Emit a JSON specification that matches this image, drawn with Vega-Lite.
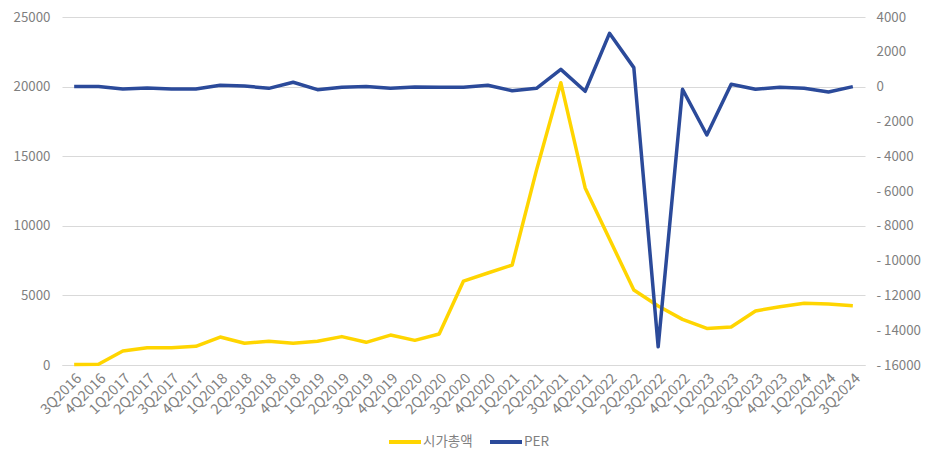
{
  "$schema": "https://vega.github.io/schema/vega-lite/v6.json",
  "autosize": {"type": "none"},
  "width": 803,
  "height": 348,
  "padding": {"left": 62, "top": 17, "right": 71, "bottom": 97},
  "background": "white",
  "config": {
    "view": {"stroke": null},
    "font": "Noto Sans CJK KR",
    "axis": {"labelColor": "#7f7f7f", "labelFontSize": 13.3, "ticks": false, "labelFont": "Noto Sans CJK KR"},
    "legend": {"labelColor": "#7f7f7f", "labelFontSize": 13.5, "labelFont": "Noto Sans CJK KR"}
  },
  "datasets": {
    "d": [
      {"q": "3Q2016", "cap": 30, "per": 0},
      {"q": "4Q2016", "cap": 50, "per": 0},
      {"q": "1Q2017", "cap": 1000, "per": -140},
      {"q": "2Q2017", "cap": 1240, "per": -80},
      {"q": "3Q2017", "cap": 1240, "per": -140},
      {"q": "4Q2017", "cap": 1340, "per": -140},
      {"q": "1Q2018", "cap": 2010, "per": 75},
      {"q": "2Q2018", "cap": 1560, "per": 35},
      {"q": "3Q2018", "cap": 1700, "per": -100},
      {"q": "4Q2018", "cap": 1560, "per": 250},
      {"q": "1Q2019", "cap": 1710, "per": -175},
      {"q": "2Q2019", "cap": 2040, "per": -40},
      {"q": "3Q2019", "cap": 1630, "per": 0},
      {"q": "4Q2019", "cap": 2150, "per": -100},
      {"q": "1Q2020", "cap": 1770, "per": -20},
      {"q": "2Q2020", "cap": 2230, "per": -40},
      {"q": "3Q2020", "cap": 6030, "per": -40},
      {"q": "4Q2020", "cap": 6610, "per": 75},
      {"q": "1Q2021", "cap": 7180, "per": -235},
      {"q": "2Q2021", "cap": 14000, "per": -100},
      {"q": "3Q2021", "cap": 20280, "per": 990},
      {"q": "4Q2021", "cap": 12720, "per": -270},
      {"q": "1Q2022", "cap": 9050, "per": 3060},
      {"q": "2Q2022", "cap": 5390, "per": 1090},
      {"q": "3Q2022", "cap": 4240, "per": -14950},
      {"q": "4Q2022", "cap": 3280, "per": -155},
      {"q": "1Q2023", "cap": 2630, "per": -2780},
      {"q": "2Q2023", "cap": 2730, "per": 130},
      {"q": "3Q2023", "cap": 3880, "per": -155},
      {"q": "4Q2023", "cap": 4190, "per": -40},
      {"q": "1Q2024", "cap": 4430, "per": -100},
      {"q": "2Q2024", "cap": 4380, "per": -310},
      {"q": "3Q2024", "cap": 4260, "per": 0}
    ]
  },
  "data": {"name": "d"},
  "encoding": {
    "x": {
      "field": "q", "type": "ordinal", "sort": null,
      "scale": {"type": "point", "padding": 0.5},
      "axis": {"title": null, "labelAngle": -45, "labelFontSize": 14.5, "labelPadding": 6, "domain": true, "domainColor": "#d9d9d9", "grid": false}
    }
  },
  "layer": [
    {
      "mark": {"type": "line", "strokeWidth": 3.5, "strokeJoin": "round"},
      "encoding": {
        "y": {
          "field": "cap", "type": "quantitative",
          "scale": {"domain": [0, 25000], "nice": false},
          "axis": {"title": null, "values": [0, 5000, 10000, 15000, 20000, 25000], "format": "d", "grid": true, "gridColor": "#d9d9d9", "domain": false, "labelPadding": 12}
        },
        "color": {
          "datum": "시가총액", "type": "nominal",
          "scale": {"domain": ["시가총액", "PER"], "range": ["#FFD500", "#2B4A9A"]},
          "legend": {
            "title": null, "orient": "none", "direction": "horizontal",
            "legendX": 325, "legendY": 407, "padding": 0,
            "symbolType": "stroke", "symbolSize": 1024, "symbolStrokeWidth": 4,
            "labelOffset": 0, "columnPadding": 9
          }
        }
      }
    },
    {
      "mark": {"type": "line", "strokeWidth": 3.5, "strokeJoin": "round"},
      "encoding": {
        "y": {
          "field": "per", "type": "quantitative",
          "scale": {"domain": [-16000, 4000], "nice": false},
          "axis": {"title": null, "orient": "right", "values": [-16000, -14000, -12000, -10000, -8000, -6000, -4000, -2000, 0, 2000, 4000], "labelExpr": "datum.value < 0 ? '- ' + format(-datum.value, 'd') : format(datum.value, 'd')", "grid": false, "domain": false, "labelPadding": 11}
        },
        "color": {"datum": "PER", "type": "nominal"}
      }
    }
  ],
  "resolve": {"scale": {"y": "independent"}}
}
